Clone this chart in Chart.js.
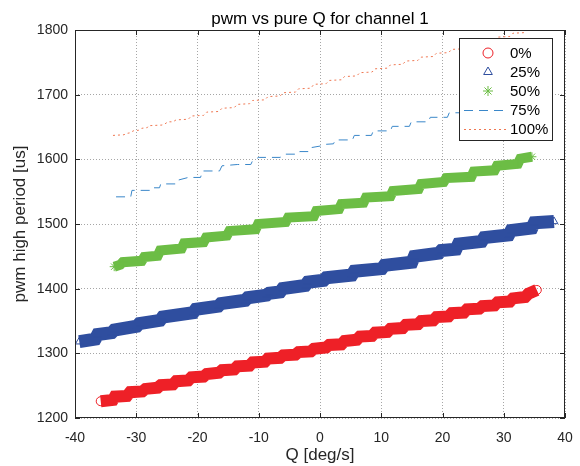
<!DOCTYPE html>
<html>
<head>
<meta charset="utf-8">
<script src="https://cdn.jsdelivr.net/npm/chart.js@4.4.0/dist/chart.umd.min.js"></script>
<style>
  body { margin: 0; background: #fff; }
  #wrap { width: 580px; height: 466px; }
</style>
</head>
<body>
<div id="wrap"><canvas id="grafico_pwm_q" width="580" height="466"></canvas></div>
<script>
// Q [deg/s] e pwm [us] por nível de throttle
const q0 = [-35.8,-33.8, -33.5,-31.5, -31,-29, -28.5,-26.5, -26,-24, -23.5,-21.5, -21,-19, -18.5,-16.5, -16,-14, -13.5,-11.5, -11,-9, -8.5,-6.5, -6,-4, -3.5,-1.5, -1,1, 1.5,3.5, 4,6, 6.5,8.5, 9,11, 11.5,13.5, 14,16, 16.5,18.5, 19,21, 21.5,23.5, 24,26, 26.5,28.5, 29,31, 31.5,33.5, 34,35.4]
const pwm0 = [1226,1228, 1233,1234, 1240,1241, 1245,1247, 1251,1252, 1257,1258, 1263,1264, 1268,1270, 1274,1275, 1280,1281, 1286,1287, 1292,1293, 1297,1298, 1302,1303, 1307,1309, 1313,1314, 1319,1321, 1326,1327, 1332,1333, 1338,1339, 1344,1345, 1350,1351, 1356,1357, 1362,1363, 1368,1369, 1373,1374, 1379,1380, 1385,1387, 1392,1398]

const q25 = [-39.3,-36.7, -36.3,-34.0, -33.6,-29.9, -29.5,-26.1, -25.7,-20.7, -20.3,-16.6, -16.2,-12.2, -11.8,-8.7, -8.3,-6.5, -6.1,-2.4, -2.0,0.6, 1.0,5.2, 5.6,10.1, 10.5,15.0, 15.4,19.4, 19.8,22.2, 22.6,26.4, 26.8,30.8, 31.2,34.6, 35.0,38.2]
const pwm25 = [1318,1322, 1329,1332, 1336,1342, 1346,1351, 1356,1363, 1368,1373, 1377,1382, 1386,1390, 1393,1395, 1400,1405, 1410,1413, 1417,1421, 1427,1431, 1436,1441, 1450,1455, 1459,1461, 1469,1473, 1479,1483, 1490,1494, 1502,1504]

const q50 = [-33.6,-32.6, -32.2,-29.1, -28.7,-26.5, -26.1,-22.6, -22.2,-19.0, -18.6,-15.2, -14.8,-10.5, -10.1,-5.6, -5.2,-1.0, -0.6,3.1, 3.5,7.1, 7.5,11.5, 11.9,16.1, 16.5,20.2, 20.6,24.7, 25.1,28.5, 28.9,32.3, 32.7,34.6]
const pwm50 = [1434,1437, 1441,1443, 1449,1451, 1459,1462, 1470,1472, 1479,1482, 1489,1492, 1500,1503, 1510,1512, 1520,1523, 1531,1533, 1541,1543, 1551,1554, 1562,1565, 1571,1573, 1581,1583, 1590,1593, 1601,1604]

const q75 = [-33.3,-30.9, -30.7,-27.7, -27.5,-26.2, -26.0,-23.4, -23.1,-21.5, -21.2,-19.5, -19.2,-16.4, -16.0,-13.5, -13.2,-11.3, -11.0,-10.0, -9.8,-6.5, -5.8,-3.5, -3.3,-1.8, -1.5,0.3, 0.6,2.2, 2.5,5.3, 5.6,8.4, 8.7,11.5, 11.8,14.6, 14.9,17.7, 18.0,20.8, 21.1,23.9, 24.2,27.0, 27.3,30.1, 30.4,33.2, 33.5,34.5]
const pwm75 = [1542,1542, 1552,1552, 1556,1556, 1562,1562, 1568,1572, 1572,1572, 1582,1582, 1590,1592, 1592,1592, 1598,1603, 1603,1603, 1608,1608, 1612,1612, 1618,1621, 1623,1624, 1630,1630, 1637,1637, 1644,1644, 1651,1651, 1658,1658, 1665,1665, 1672,1672, 1679,1679, 1686,1686, 1693,1693, 1700,1700]

const q100 = [-33.8,-32.0,-31.6,-31.0,-30.5,-29.6,-29.1,-28.2,-28.0,-25.8,-25.3,-24.8,-24.0,-23.5,-21.5,-21.0,-19.0,-18.5,-16.5,-16.0,-14.0,-13.5,-11.5,-11.0,-9.0,-8.5,-6.5,-6.0,-4.0,-3.5,-1.5,-1.0,1.0,1.5,3.5,4.0,6.0,6.5,8.5,9.0,11.0,11.5,13.5,14.0,16.0,16.5,18.5,19.0,21.0,21.5,23.5,24.0,26.0,26.5,28.5,29.0,31.0,31.5,33.5]
const pwm100 = [1637,1638,1640,1641,1644,1645,1648,1649,1652,1653,1655,1658,1658,1661,1662,1667,1668,1673,1674,1679,1680,1685,1686,1691,1692,1697,1698,1703,1704,1709,1710,1716,1717,1722,1723,1728,1729,1734,1735,1740,1741,1746,1747,1752,1753,1758,1759,1764,1765,1770,1771,1776,1777,1782,1783,1789,1790,1795,1796]

const xTicks = [-40, -30, -20, -10, 0, 10, 20, 30, 40]
const yTicks = [1200, 1300, 1400, 1500, 1600, 1700, 1800]
const legendas = ['0%', '25%', '50%', '75%', '100%']

const FONTE = '"Liberation Sans", Arial, sans-serif'
const COR_EIXO = '#262626'
const cores = ['#ee2027', '#2f4e9f', '#6cbd45', '#3a87c9', '#ef7650']

const pontos = (qs, ps) => qs.map((q, i) => ({ x: q, y: ps[i] }))

// faixa espessa de marcadores (0%, 25%, 50%)
const faixa = (label, qs, ps, cor, largura, estilo) => ({
    label,
    data: pontos(qs, ps),
    borderColor: cor,
    borderWidth: largura,
    borderJoinStyle: 'miter',
    pointStyle: estilo,
    pointRadius: 4.5,
    pointBorderColor: cor,
    pointBackgroundColor: 'rgba(0,0,0,0)',
    pointBorderWidth: 1,
    tension: 0,
    fill: false
})

// linha tracejada / pontilhada (75%, 100%)
const linha = (label, qs, ps, cor, traco) => ({
    label,
    data: pontos(qs, ps),
    borderColor: cor,
    borderWidth: 1,
    borderDash: traco,
    pointRadius: 0,
    tension: 0,
    fill: false
})

// caixa do eixo, ticks para dentro, título e legenda no estilo do matlab
const molduraMatlab = {
    id: 'molduraMatlab',
    afterDatasetsDraw(chart) {
        const { ctx, chartArea: a, scales } = chart
        ctx.save()
        ctx.strokeStyle = COR_EIXO
        ctx.lineWidth = 1
        ctx.setLineDash([])
        ctx.strokeRect(a.left + 0.5, a.top + 0.5, a.right - a.left - 1, a.bottom - a.top - 1)
        ctx.beginPath()
        xTicks.forEach(v => {
            const px = Math.round(scales.x.getPixelForValue(v)) + 0.5
            ctx.moveTo(px, a.bottom); ctx.lineTo(px, a.bottom - 5)
            ctx.moveTo(px, a.top); ctx.lineTo(px, a.top + 5)
        })
        yTicks.forEach(v => {
            const py = Math.round(scales.y.getPixelForValue(v)) + 0.5
            ctx.moveTo(a.left, py); ctx.lineTo(a.left + 5, py)
            ctx.moveTo(a.right, py); ctx.lineTo(a.right - 5, py)
        })
        ctx.stroke()

        // título
        ctx.fillStyle = '#000'
        ctx.font = '17px ' + FONTE
        ctx.textAlign = 'center'
        ctx.textBaseline = 'alphabetic'
        ctx.fillText('pwm vs pure Q for channel 1', (a.left + a.right) / 2, 24)

        // legenda
        const lx = a.right - 106, ly = a.top + 8, lw = 93, lh = 102
        ctx.fillStyle = '#fff'
        ctx.fillRect(lx, ly, lw, lh)
        ctx.strokeStyle = COR_EIXO
        ctx.strokeRect(lx + 0.5, ly + 0.5, lw, lh)
        const estilos = ['circle', 'triangle', 'star']
        legendas.forEach((txt, i) => {
            const y = ly + 15 + 19 * i
            ctx.strokeStyle = cores[i]
            ctx.lineWidth = 1
            if (i < 3) {
                ctx.fillStyle = 'rgba(0,0,0,0)'
                Chart.helpers.drawPoint(ctx, { pointStyle: estilos[i], radius: 5, rotation: 0, borderWidth: 1 }, lx + 29, y)
            } else {
                ctx.setLineDash(i === 3 ? [9, 6] : [2, 3])
                ctx.beginPath()
                ctx.moveTo(lx + 5, y + 0.5); ctx.lineTo(lx + 50, y + 0.5)
                ctx.stroke()
                ctx.setLineDash([])
            }
            ctx.fillStyle = '#000'
            ctx.font = '15px ' + FONTE
            ctx.textAlign = 'left'
            ctx.textBaseline = 'middle'
            ctx.fillText(txt, lx + 51, y + 1)
        })
        ctx.restore()
    }
}

Chart.defaults.font.family = FONTE

const ctx = document.querySelector('#grafico_pwm_q')
const chart = new Chart(ctx, {
    type: 'line',
    data: {
        datasets: [
            faixa(legendas[0], q0, pwm0, cores[0], 12, 'circle'),
            faixa(legendas[1], q25, pwm25, cores[1], 13, 'triangle'),
            faixa(legendas[2], q50, pwm50, cores[2], 10, 'star'),
            linha(legendas[3], q75, pwm75, cores[3], [9, 6]),
            linha(legendas[4], q100, pwm100, cores[4], [2, 3])
        ]
    },
    options: {
        responsive: false,
        animation: false,
        events: [],
        layout: { padding: { top: 30, right: 15, left: 0, bottom: 0 } },
        plugins: {
            legend: { display: false },
            title: { display: false },
            tooltip: { enabled: false }
        },
        scales: {
            x: {
                type: 'linear', min: -40, max: 40,
                ticks: { stepSize: 10, padding: 12, color: COR_EIXO, font: { size: 14 }, maxRotation: 0,
                    callback: v => String(v) },
                grid: { color: 'rgba(0,0,0,0.35)', drawTicks: false },
                border: { display: false, dash: [1, 2] },
                title: { display: true, text: 'Q [deg/s]', color: COR_EIXO, font: { size: 17 }, padding: { top: -1, bottom: 0 } },
                afterFit: s => { s.height = 48; s.paddingLeft = 0; s.paddingRight = 0 }
            },
            y: {
                type: 'linear', min: 1200, max: 1800,
                ticks: { stepSize: 100, padding: 7, color: COR_EIXO, font: { size: 14 },
                    callback: v => String(v) },
                grid: { color: 'rgba(0,0,0,0.35)', drawTicks: false },
                border: { display: false, dash: [1, 2] },
                title: { display: true, text: 'pwm high period [us]', color: COR_EIXO, font: { size: 17 }, padding: { top: 10, bottom: 0 } },
                afterFit: s => { s.width = 75 }
            }
        }
    },
    plugins: [molduraMatlab]
})
</script>
</body>
</html>
